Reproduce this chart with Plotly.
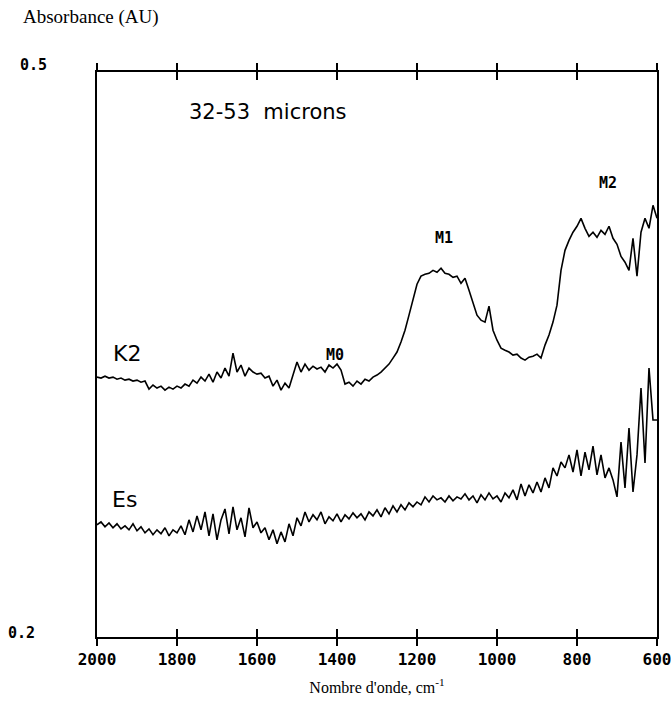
import plotly.graph_objects as go

wavenumber = list(range(2000, 599, -10))

k2 = [
    0.3380, 0.3375, 0.3385, 0.3375, 0.3380, 0.3369, 0.3375, 0.3364, 0.3369, 0.3359,
    0.3364, 0.3353, 0.3359, 0.3316, 0.3338, 0.3322, 0.3332, 0.3311, 0.3327, 0.3316,
    0.3332, 0.3322, 0.3343, 0.3332, 0.3364, 0.3348, 0.3380, 0.3359, 0.3396, 0.3353,
    0.3407, 0.3375, 0.3428, 0.3385, 0.3507, 0.3407, 0.3444, 0.3385, 0.3428, 0.3407,
    0.3396, 0.3401, 0.3375, 0.3385, 0.3332, 0.3364, 0.3311, 0.3348, 0.3322, 0.3385,
    0.3460, 0.3407, 0.3449, 0.3417, 0.3438, 0.3423, 0.3433, 0.3407, 0.3444, 0.3428,
    0.3449, 0.3417, 0.3343, 0.3353, 0.3332, 0.3359, 0.3343, 0.3369, 0.3359, 0.3380,
    0.3391, 0.3407, 0.3428, 0.3449, 0.3481, 0.3513, 0.3566, 0.3629, 0.3709, 0.3799,
    0.3873, 0.3916, 0.3926, 0.3931, 0.3947, 0.3937, 0.3958, 0.3931, 0.3926, 0.3910,
    0.3916, 0.3878, 0.3905, 0.3841, 0.3772, 0.3709, 0.3682, 0.3672, 0.3757, 0.3629,
    0.3576, 0.3534, 0.3523, 0.3513, 0.3497, 0.3502, 0.3481, 0.3470, 0.3486, 0.3491,
    0.3502, 0.3481, 0.3550, 0.3603, 0.3672, 0.3762, 0.3947, 0.4053, 0.4106, 0.4149,
    0.4181, 0.4223, 0.4170, 0.4127, 0.4149, 0.4122, 0.4159, 0.4138, 0.4181, 0.4117,
    0.4085, 0.4021, 0.3990, 0.3947, 0.4117, 0.3916, 0.4149, 0.4223, 0.4170, 0.4292,
    0.4223,
]

es = [
    0.2596, 0.2611, 0.2585, 0.2606, 0.2580, 0.2601, 0.2574, 0.2590, 0.2569, 0.2601,
    0.2564, 0.2585, 0.2553, 0.2574, 0.2543, 0.2569, 0.2548, 0.2580, 0.2537, 0.2569,
    0.2553, 0.2590, 0.2543, 0.2622, 0.2558, 0.2643, 0.2569, 0.2664, 0.2537, 0.2654,
    0.2516, 0.2622, 0.2680, 0.2548, 0.2691, 0.2569, 0.2633, 0.2532, 0.2686, 0.2580,
    0.2611, 0.2553, 0.2580, 0.2516, 0.2569, 0.2495, 0.2558, 0.2505, 0.2601, 0.2537,
    0.2633, 0.2590, 0.2664, 0.2611, 0.2649, 0.2622, 0.2664, 0.2601, 0.2638, 0.2617,
    0.2654, 0.2611, 0.2649, 0.2627, 0.2659, 0.2633, 0.2654, 0.2622, 0.2664, 0.2643,
    0.2675, 0.2638, 0.2686, 0.2654, 0.2696, 0.2664, 0.2702, 0.2675, 0.2712, 0.2691,
    0.2717, 0.2702, 0.2744, 0.2717, 0.2749, 0.2728, 0.2739, 0.2717, 0.2749, 0.2723,
    0.2744, 0.2733, 0.2760, 0.2728, 0.2749, 0.2712, 0.2755, 0.2728, 0.2765, 0.2733,
    0.2749, 0.2717, 0.2765, 0.2739, 0.2781, 0.2728, 0.2813, 0.2749, 0.2808, 0.2765,
    0.2823, 0.2770, 0.2845, 0.2792, 0.2898, 0.2855, 0.2929, 0.2898, 0.2967, 0.2876,
    0.2993, 0.2855, 0.2982, 0.2887, 0.3014, 0.2861, 0.2967, 0.2845, 0.2898, 0.2834,
    0.2744, 0.3035, 0.2792, 0.3110, 0.2770, 0.2967, 0.3322, 0.2924, 0.3428, 0.3152,
    0.3152,
]

x_ticks = [2000, 1800, 1600, 1400, 1200, 1000, 800, 600]
x_tick_text = ["2000", "1800", "1600", "1400", "1200", "1000", "800", "600"]
y_ticks = [0.2, 0.5]
y_tick_text = ["0.2", "0.5"]

mono = "DejaVu Sans Mono"
serif = "Liberation Serif"
sans = "DejaVu Sans"

fig = go.Figure()
fig.add_trace(go.Scatter(x=wavenumber, y=k2, mode="lines",
                         line=dict(color="black", width=1.6), name="K2"))
fig.add_trace(go.Scatter(x=wavenumber, y=es, mode="lines",
                         line=dict(color="black", width=1.6), name="Es"))
# invisible trace on overlay axis so that the inner tick marks are drawn
fig.add_trace(go.Scatter(x=wavenumber, y=k2, mode="lines", xaxis="x2",
                         line=dict(color="rgba(0,0,0,0)", width=0),
                         hoverinfo="skip", showlegend=False))

y_label_annotations = [
    dict(text=t, xref="paper", yref="y", x=xp, y=v, yshift=ys,
         xanchor="center", yanchor="middle", showarrow=False,
         font=dict(family=mono, size=15, color="black", weight="bold"))
    for t, v, xp, ys in zip(y_tick_text, y_ticks, [-0.134, -0.113], [4, 7])
]

fig.update_layout(
    width=671, height=705,
    paper_bgcolor="white", plot_bgcolor="white",
    margin=dict(l=97, r=14, t=72, b=68),
    showlegend=False,
    xaxis=dict(
        range=[2000, 600], tickvals=x_ticks, ticktext=x_tick_text,
        showgrid=False, zeroline=False, showline=True, linecolor="black",
        linewidth=1.6, mirror="allticks", ticks="outside", ticklen=7,
        tickwidth=1.5, tickcolor="black", ticklabeloverflow="allow",
        automargin=False,
        tickfont=dict(family=mono, size=16, color="black", weight="bold"),
        title=dict(text="Nombre d'onde, cm<sup>-1</sup>",
                   font=dict(family=serif, size=16, color="black"), standoff=14),
    ),
    xaxis2=dict(
        range=[2000, 600], overlaying="x", side="bottom", tickvals=x_ticks,
        showticklabels=False, showgrid=False, zeroline=False, showline=False,
        mirror="allticks", ticks="inside", ticklen=8, tickwidth=1.5,
        tickcolor="black", automargin=False,
    ),
    yaxis=dict(
        range=[0.2, 0.5], showticklabels=False, automargin=False,
        showgrid=False, zeroline=False, showline=True, linecolor="black",
        linewidth=1.6, mirror=True, ticks="",
    ),
    annotations=y_label_annotations + [
        dict(text="Absorbance (AU)", xref="paper", yref="paper", x=-0.135, y=1.098,
             xanchor="left", yanchor="middle", showarrow=False,
             font=dict(family=serif, size=19, color="black")),
        dict(text="32-53&nbsp;&nbsp;microns", x=1575, y=0.479, showarrow=False,
             font=dict(family=sans, size=21, color="black")),
        dict(text="K2", x=1925, y=0.3507, showarrow=False,
             font=dict(family=sans, size=22, color="black")),
        dict(text="Es", x=1932, y=0.2728, showarrow=False,
             font=dict(family=sans, size=22, color="black")),
        dict(text="M0", x=1405, y=0.3497, showarrow=False,
             font=dict(family=mono, size=15, color="black", weight="bold")),
        dict(text="M1", x=1132, y=0.4117, showarrow=False,
             font=dict(family=mono, size=15, color="black", weight="bold")),
        dict(text="M2", x=722, y=0.4408, showarrow=False,
             font=dict(family=mono, size=15, color="black", weight="bold")),
    ],
)

fig.write_html("out.html", config={"displayModeBar": False},
               post_script="document.body.style.margin='0';")
